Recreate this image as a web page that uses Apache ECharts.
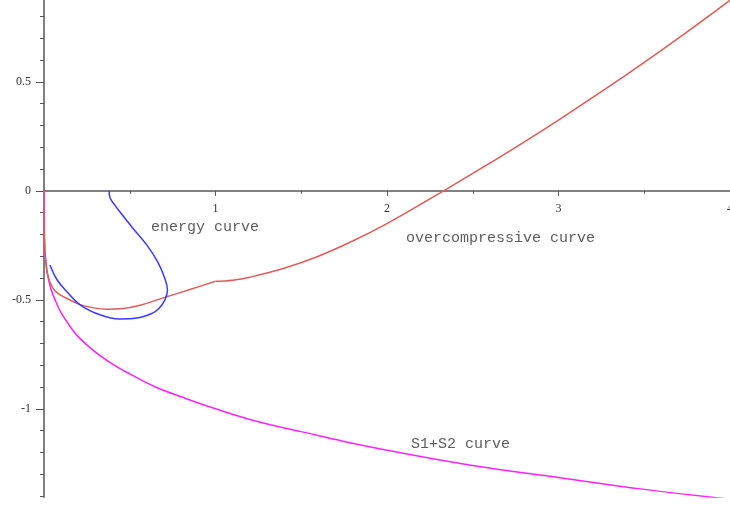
<!DOCTYPE html>
<html>
<head>
<meta charset="utf-8">
<script src="https://cdn.jsdelivr.net/npm/echarts@6/dist/echarts.min.js"></script>
<style>
  html, body { margin: 0; padding: 0; background: #fff; }
  #main { width: 730px; height: 508px; }
</style>
</head>
<body>
<div id="main"></div>
<script>
// 曲线数据，读自原图
const s1s2Curve = [
  [0, 0], [0.0005, -0.15], [0.002, -0.21], [0.005, -0.27], [0.01, -0.32],
  [0.02, -0.38], [0.04, -0.45], [0.07, -0.51], [0.1, -0.56], [0.15, -0.62],
  [0.2, -0.67], [0.3, -0.74], [0.4, -0.795], [0.5, -0.84], [0.65, -0.9],
  [0.8, -0.945], [1.0, -1.0], [1.25, -1.06], [1.5, -1.105], [1.75, -1.15],
  [2.0, -1.19], [2.5, -1.26], [3.0, -1.315], [3.5, -1.37], [4.0, -1.415]
];
// overcompressive curve, 1 处有折点, 分两段
const overLeft = [
  [0, 0], [0.0005, -0.15], [0.002, -0.21], [0.005, -0.27], [0.01, -0.32],
  [0.02, -0.38], [0.035, -0.42], [0.06, -0.455], [0.1, -0.48], [0.15, -0.5],
  [0.21, -0.522], [0.29, -0.537], [0.37, -0.543], [0.46, -0.54], [0.56, -0.525],
  [0.7, -0.49], [0.85, -0.453], [1.0, -0.415]
];
const overRight = [
  [1.0, -0.415], [1.1, -0.41], [1.2, -0.396], [1.4, -0.355], [1.6, -0.3],
  [1.8, -0.23], [2.0, -0.15], [2.2, -0.06], [2.33, 0], [2.5, 0.08],
  [2.75, 0.2], [3.0, 0.325], [3.25, 0.455], [3.5, 0.59], [3.75, 0.73], [4.0, 0.875]
];
const energyCurve = [
  [0.38, 0], [0.384, -0.03], [0.41, -0.062], [0.442, -0.096], [0.517, -0.17],
  [0.599, -0.248], [0.663, -0.326], [0.703, -0.399], [0.72, -0.455], [0.705, -0.5],
  [0.67, -0.54], [0.63, -0.562], [0.54, -0.584], [0.442, -0.588], [0.33, -0.57],
  [0.21, -0.523], [0.134, -0.463], [0.076, -0.408], [0.035, -0.34]
];

// 文字标注
const curveNames = ['energy curve', 'overcompressive curve', 'S1+S2 curve'];
const curveNamePos = [[0.624, -0.165], [2.111, -0.216], [2.14, -1.161]];

// 刻度
const xMajorTicks = [1, 2, 3, 4];
const xMinorTicks = [0.5, 1.5, 2.5, 3.5];
const yMajorTicks = [-1, -0.5, 0, 0.5];
const yMinorTicks = [-1.4, -1.3, -1.2, -1.1, -0.9, -0.8, -0.7, -0.6, -0.4, -0.3,
  -0.2, -0.1, 0.1, 0.2, 0.3, 0.4, 0.6, 0.7, 0.8];

const X_MIN = 0, X_MAX = 4;
const Y_MIN = -1.405, Y_MAX = 0.876;

const W = 730, H = 508;
const gridTop = 0, gridBottom = 11;
// x轴放在 y=0 处: 另开一个 grid, 底边对齐 y=0
const plotH = H - gridTop - gridBottom;
const zeroY = gridTop + plotH * Y_MAX / (Y_MAX - Y_MIN);

const axisColor = '#808080';
const tickColor = '#555';
const labelFont = { fontFamily: 'Liberation Serif', fontSize: 12, color: '#333' };

var myChart = echarts.init(document.getElementById('main'));
var option = {
  animation: false,
  grid: [
    { left: 44, right: 0, top: gridTop, bottom: gridBottom, outerBoundsMode: 'none', containLabel: false },
    { left: 44, right: 0, top: 0, bottom: H - zeroY, outerBoundsMode: 'none', containLabel: false }
  ],
  xAxis: [{
    gridIndex: 0, type: 'value', min: X_MIN, max: X_MAX, show: false
  }, {
    gridIndex: 1, type: 'value', min: X_MIN, max: X_MAX, position: 'bottom',
    axisLine: { onZero: false, lineStyle: { color: axisColor, width: 2 } },
    axisTick: { show: true, length: 5, customValues: xMajorTicks, lineStyle: { color: tickColor, width: 1 } },
    axisLabel: Object.assign({ customValues: xMajorTicks, margin: 12 }, labelFont),
    splitLine: { show: false }
  }, {
    gridIndex: 1, type: 'value', min: X_MIN, max: X_MAX, position: 'bottom',
    axisLine: { show: false, onZero: false },
    axisTick: { show: true, length: 3, customValues: xMinorTicks, lineStyle: { color: tickColor, width: 1 } },
    axisLabel: { show: false },
    splitLine: { show: false }
  }],
  yAxis: [{
    gridIndex: 0, type: 'value', min: Y_MIN, max: Y_MAX,
    axisLine: { onZero: false, lineStyle: { color: axisColor, width: 2 } },
    axisTick: { show: true, length: 8, customValues: yMajorTicks, lineStyle: { color: tickColor, width: 1 } },
    axisLabel: Object.assign({ customValues: yMajorTicks, margin: 13 }, labelFont),
    splitLine: { show: false }
  }, {
    gridIndex: 0, type: 'value', min: Y_MIN, max: Y_MAX, position: 'left',
    axisLine: { show: false, onZero: false },
    axisTick: { show: true, length: 4, customValues: yMinorTicks, lineStyle: { color: tickColor, width: 1 } },
    axisLabel: { show: false },
    splitLine: { show: false }
  }, {
    gridIndex: 1, type: 'value', min: 0, max: Y_MAX, show: false
  }],
  series: [{
      name: 'S1+S2', type: 'line', data: s1s2Curve, smooth: 0.4, showSymbol: false,
      lineStyle: { color: '#ff22ff', width: 1.5 }
    }, {
      name: 'over1', type: 'line', data: overLeft, smooth: 0.4, showSymbol: false,
      lineStyle: { color: '#e05a5a', width: 1.5 }
    }, {
      name: 'over2', type: 'line', data: overRight, smooth: 0.4, showSymbol: false,
      lineStyle: { color: '#e05a5a', width: 1.5 }
    }, {
      name: 'energy', type: 'line', data: energyCurve, smooth: 0.4, showSymbol: false,
      lineStyle: { color: '#3a3aff', width: 1.5 }
    }, {
      name: 'labels', type: 'scatter', symbolSize: 0, silent: true,
      data: curveNames.map((n, i) => ({ name: n, value: curveNamePos[i] })),
      label: {
        show: true, position: [0, 0], align: 'left', verticalAlign: 'middle',
        formatter: '{b}', fontFamily: 'Liberation Mono', fontSize: 15, color: '#333'
      }
    }
  ]
};
myChart.setOption(option);
</script>
</body>
</html>
